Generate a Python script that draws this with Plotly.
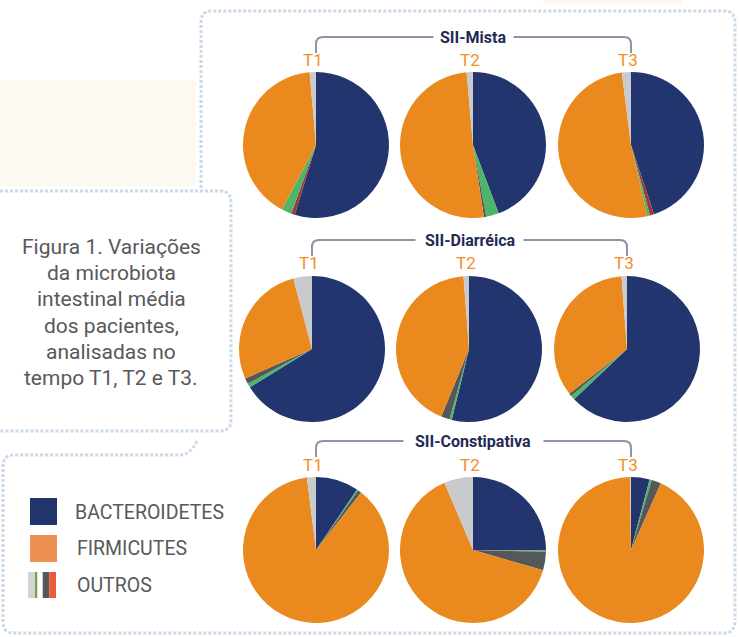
import plotly.graph_objects as go

W, H = 740, 637

# ---------------- data (% of each pie) ----------------
groups = ["SII-Mista", "SII-Diarréica", "SII-Constipativa"]
times = ["T1", "T2", "T3"]
categories = ["Bacteroidetes", "Outros (vermelho)", "Outros (verde)",
              "Outros (cinza escuro)", "Firmicutes", "Outros (cinza claro)"]

mista_values = [
    [54.7, 0.8, 2.2, 0.0, 40.9, 1.4],
    [44.3, 0.0, 2.8, 0.5, 51.0, 1.4],
    [44.9, 0.9, 0.6, 0.0, 51.6, 2.0],
]
diarreica_values = [
    [66.2, 0.0, 0.9, 1.3, 27.5, 4.1],
    [53.8, 0.0, 0.5, 1.9, 42.6, 1.2],
    [62.9, 0.0, 1.0, 0.6, 34.3, 1.2],
]
constipativa_values = [
    [9.5, 0.0, 0.3, 0.8, 87.4, 2.0],
    [25.1, 0.0, 0.3, 4.1, 64.1, 6.4],
    [4.1, 0.0, 0.5, 2.1, 93.1, 0.2],
]
group_values = [mista_values, diarreica_values, constipativa_values]

legend_labels = ["BACTEROIDETES", "FIRMICUTES", "OUTROS"]
caption_lines = ["Figura 1. Variações", "da microbiota", "intestinal média",
                 "dos pacientes,", "analisadas no", "tempo T1, T2 e T3."]

# ---------------- styling ----------------
slice_colors = ["#23356f", "#9b3a32", "#4db56a", "#555759", "#e9891e", "#c9cacc"]
NAVY_TXT = "#1f2a55"
ORANGE_TXT = "#f0901e"
GRAY_TXT = "#58595b"
BORDER = "#c9d9e8"
BRACKET = "#8b95a8"
FONT = "Roboto"

R = 73
row_cy = [145, 349, 550]
row_cx = [[316, 473, 631], [312, 469, 627], [316, 473, 631]]
title_y = [37, 240, 441]
title_half = [40, 54, 70]
tlabel_y = [60, 263, 465]


def px(x):
    return x / W


def py(y):
    return 1 - y / H


fig = go.Figure()

for gi, vals_g in enumerate(group_values):
    for ti, vals in enumerate(vals_g):
        cx, cy = row_cx[gi][ti], row_cy[gi]
        fig.add_trace(go.Pie(
            values=vals, labels=categories, sort=False, direction="clockwise",
            rotation=0, textinfo="none", showlegend=False,
            marker=dict(colors=slice_colors, line=dict(width=0)),
            name=f"{groups[gi]} {times[ti]}",
            hovertemplate="%{label}: %{percent}<extra>" + f"{groups[gi]} {times[ti]}" + "</extra>",
            domain=dict(x=[px(cx - R), px(cx + R)], y=[py(cy + R), py(cy - R)]),
        ))

shapes = []
annotations = []


def path_shape(d, color, width, dash="solid", layer="above"):
    return dict(type="path", path=d, xref="paper", yref="paper",
                line=dict(color=color, width=width, dash=dash), layer=layer)


def P(x, y):
    return f"{px(x):.5f},{py(y):.5f}"


# beige background patches
for (x0, y0, x1, y1) in [(0, 80, 196, 186), (543, 0, 682, 5)]:
    shapes.append(dict(type="rect", xref="paper", yref="paper",
                       x0=px(x0), x1=px(x1), y0=py(y1), y1=py(y0),
                       fillcolor="#fdf8f1", line=dict(width=0), layer="below"))

# dotted borders
dash = "3px,2px"
# main chart box (top + left + right)
shapes.append(path_shape(
    f"M {P(201,188)} L {P(201,22)} Q {P(201,11)} {P(212,11)} L {P(724,11)} "
    f"Q {P(735,11)} {P(735,22)} L {P(735,620)}", BORDER, 3, dash, "below"))
# caption box
shapes.append(path_shape(
    f"M {P(0,191)} L {P(220,191)} Q {P(231,191)} {P(231,202)} L {P(231,420)} "
    f"Q {P(231,431)} {P(220,431)} L {P(0,431)}", BORDER, 3, dash, "below"))
# legend box
shapes.append(path_shape(
    f"M {P(197,441)} Q {P(190,455)} {P(180,455)} L {P(14,455)} Q {P(3,455)} {P(3,466)} "
    f"L {P(3,622)} Q {P(3,633)} {P(14,633)} L {P(724,633)} Q {P(735,633)} {P(735,620)}",
    BORDER, 3, dash, "below"))

# group brackets, titles and time labels
for gi in range(3):
    xl, xr = row_cx[gi][0], row_cx[gi][2]
    yt = title_y[gi]
    xc = (xl + xr) / 2
    h = title_half[gi]
    shapes.append(path_shape(
        f"M {P(xl, yt+16)} L {P(xl, yt+7)} Q {P(xl, yt)} {P(xl+7, yt)} L {P(xc-h, yt)}",
        BRACKET, 2))
    shapes.append(path_shape(
        f"M {P(xc+h, yt)} L {P(xr-7, yt)} Q {P(xr, yt)} {P(xr, yt+7)} L {P(xr, yt+16)}",
        BRACKET, 2))
    annotations.append(dict(x=px(xc), y=py(yt), xref="paper", yref="paper",
                            text=f"<b>{groups[gi]}</b>", showarrow=False,
                            xanchor="center", yanchor="middle",
                            font=dict(family=FONT, size=16, color=NAVY_TXT)))
    for ti in range(3):
        annotations.append(dict(x=px(row_cx[gi][ti] - 3), y=py(tlabel_y[gi]),
                                xref="paper", yref="paper", text=times[ti],
                                showarrow=False, xanchor="center", yanchor="middle",
                                font=dict(family=FONT, size=17, color=ORANGE_TXT)))

# caption
for i, line in enumerate(caption_lines):
    annotations.append(dict(x=px(111), y=py(247 + 26.2 * i), xref="paper", yref="paper",
                            text=line, showarrow=False, xanchor="center", yanchor="middle",
                            font=dict(family=FONT, size=21, color=GRAY_TXT)))

# legend swatches
shapes.append(dict(type="rect", xref="paper", yref="paper", x0=px(30), x1=px(57),
                   y0=py(525), y1=py(498), fillcolor="#22346c", line=dict(width=0)))
shapes.append(dict(type="rect", xref="paper", yref="paper", x0=px(30), x1=px(57),
                   y0=py(562), y1=py(535), fillcolor="#ee9150", line=dict(width=0)))
stripes = [(28, 35, "#d2d3d5"), (35, 37.5, "#78a23c"), (37.5, 42.7, "#ffffff"),
           (42.7, 49.3, "#555759"), (49.3, 56, "#e85c3a")]
for x0, x1, c in stripes:
    shapes.append(dict(type="rect", xref="paper", yref="paper", x0=px(x0), x1=px(x1),
                       y0=py(598), y1=py(572), fillcolor=c, line=dict(width=0)))
for lbl, ly, lx in zip(legend_labels, [512, 548, 585], [73, 75, 75]):
    annotations.append(dict(x=px(lx), y=py(ly), xref="paper", yref="paper", text=lbl,
                            showarrow=False, xanchor="left", yanchor="middle",
                            font=dict(family=FONT, size=19.5, color=GRAY_TXT)))

fig.update_layout(
    width=W, height=H, margin=dict(l=0, r=0, t=0, b=0),
    paper_bgcolor="white", plot_bgcolor="white",
    shapes=shapes, annotations=annotations, showlegend=False,
)

fig.write_html("out.html", config={"displayModeBar": False},
               post_script="document.body.style.margin='0';document.body.style.overflow='hidden';")
